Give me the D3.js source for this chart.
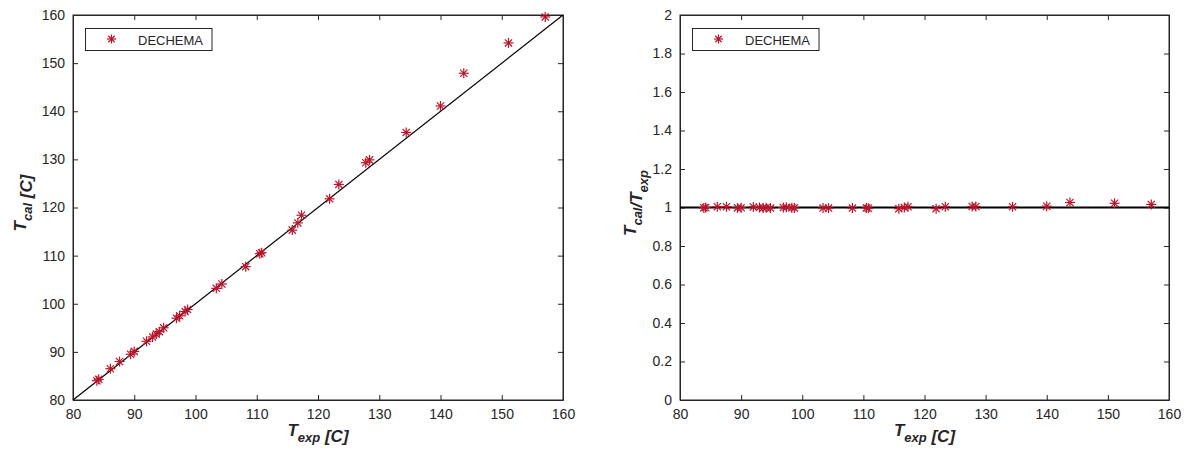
<!DOCTYPE html>
<html>
<head>
<meta charset="utf-8">
<script src="https://cdn.jsdelivr.net/npm/d3@7"></script>
<style>
  body { margin: 0; background: #fff; }
  text { font-family: "Liberation Sans", Arial, sans-serif; }
</style>
</head>
<body>
<div id="canvas"></div>
<script>
// values
var tExp = [83.9, 84.2, 86.1, 87.6, 89.4, 90.0, 92.0, 93.0, 93.6, 94.1, 94.8,
  96.9, 97.4, 98.3, 98.7, 103.4, 104.3, 108.2, 110.5, 110.8, 115.8, 116.7,
  117.3, 121.9, 123.4, 127.8, 128.4, 134.4, 140.0, 143.8, 151.1, 157.1];
var tCal = [84.0, 84.3, 86.5, 88.0, 89.5, 90.1, 92.2, 93.1, 93.7, 94.2, 95.0,
  97.0, 97.5, 98.4, 98.8, 103.2, 104.1, 107.7, 110.4, 110.6, 115.3, 116.8,
  118.4, 121.8, 124.8, 129.3, 129.9, 135.6, 141.1, 147.9, 154.2, 159.6];
var ratio = [0.998, 1.000, 1.004, 1.004, 0.998, 0.999, 1.003, 1.000, 0.998, 0.999, 0.997,
  1.000, 1.001, 0.999, 0.998, 0.997, 0.997, 0.997, 0.998, 0.996, 0.994, 1.000,
  1.004, 0.994, 1.004, 1.005, 1.005, 1.004, 1.007, 1.026, 1.022, 1.016];
var xTicks = [80, 90, 100, 110, 120, 130, 140, 150, 160];
var leftYTicks = [80, 90, 100, 110, 120, 130, 140, 150, 160];
var rightYTicks = [0, 0.2, 0.4, 0.6, 0.8, 1, 1.2, 1.4, 1.6, 1.8, 2];
var legendLabel = "DECHEMA";

var markColor = "#b8142a";
var axisColor = "#262626";

var svg = d3.select('#canvas').append('svg')
  .attr('width', 1189)
  .attr('height', 456);

// MATLAB style asterisk: plus + cross
var star = function(g, r) {
  var d = r * 0.72;
  g.append('line').attr('x1', 0).attr('y1', -r).attr('x2', 0).attr('y2', r);
  g.append('line').attr('x1', -r).attr('y1', 0).attr('x2', r).attr('y2', 0);
  g.append('line').attr('x1', -d).attr('y1', -d).attr('x2', d).attr('y2', d);
  g.append('line').attr('x1', -d).attr('y1', d).attr('x2', d).attr('y2', -d);
};

var label = function(g, parts) {
  // parts: [text, sub] pairs
  parts.forEach(function(p) {
    g.append('tspan').text(p[0]);
    if (p[1]) {
      g.append('tspan').attr('dy', 6).attr('font-size', 13).text(p[1]);
      g.append('tspan').attr('dy', -6).text('');
    }
  });
};

var drawPanel = function(opt) {
  var x = d3.scaleLinear().domain([80, 160]).range([opt.left, opt.right]);
  var y = d3.scaleLinear().domain(opt.yDomain).range([400, 15]);
  var g = svg.append('g');

  g.append('g').attr('transform', 'translate(0,400)')
    .call(d3.axisBottom(x).tickValues(xTicks).tickSizeInner(-5).tickSizeOuter(0).tickPadding(9));
  g.append('g').attr('transform', 'translate(0,15)')
    .call(d3.axisTop(x).tickValues(xTicks).tickSizeInner(-5).tickSizeOuter(0).tickFormat(''));
  g.append('g').attr('transform', 'translate(' + opt.left + ',0)')
    .call(d3.axisLeft(y).tickValues(opt.yTicks).tickSizeInner(-5).tickSizeOuter(0).tickPadding(8)
      .tickFormat(opt.fmt));
  g.append('g').attr('transform', 'translate(' + opt.right + ',0)')
    .call(d3.axisRight(y).tickValues(opt.yTicks).tickSizeInner(-5).tickSizeOuter(0).tickFormat(''));

  g.selectAll('.domain, .tick line').attr('stroke', axisColor);
  g.selectAll('.tick text').attr('fill', axisColor).attr('font-size', 14)
    .attr('font-family', '"Liberation Sans", Arial, sans-serif');

  g.append('rect')
    .attr('x', opt.left).attr('y', 15)
    .attr('width', opt.right - opt.left).attr('height', 385)
    .attr('fill', 'none').attr('stroke', axisColor);

  // reference line
  g.append('line')
    .attr('x1', x(80)).attr('y1', y(opt.line[0]))
    .attr('x2', x(160)).attr('y2', y(opt.line[1]))
    .attr('stroke', '#000').attr('stroke-width', opt.lineW);

  var pts = g.selectAll('g.pt').data(tExp)
    .enter().append('g').attr('class', 'pt')
    .attr('transform', function (d, i) { return 'translate(' + x(d) + ',' + y(opt.yVals[i]) + ')'; })
    .attr('stroke', markColor).attr('stroke-width', 1.2);
  pts.each(function() { star(d3.select(this), 5); });

  // legend
  var lg = g.append('g');
  lg.append('rect').attr('x', opt.left + 12.5).attr('y', 28.5)
    .attr('width', 126.5).attr('height', 22)
    .attr('fill', '#fff').attr('stroke', axisColor);
  var m = lg.append('g').attr('transform', 'translate(' + (opt.left + 38.5) + ',39)')
    .attr('stroke', markColor).attr('stroke-width', 1.2);
  star(m, 4.5);
  lg.append('text').attr('x', opt.left + 65).attr('y', 44.5)
    .attr('font-size', 13).attr('fill', axisColor).text(legendLabel);

  // axis titles
  var xt = g.append('text').attr('x', (opt.left + opt.right) / 2).attr('y', 436)
    .attr('text-anchor', 'middle').attr('font-size', 17)
    .attr('font-weight', 'bold').attr('font-style', 'italic').attr('fill', axisColor);
  label(xt, [['T', 'exp'], [' [C]']]);

  var yt = g.append('text')
    .attr('transform', 'translate(' + opt.yLabelX + ',203) rotate(-90)')
    .attr('text-anchor', 'middle').attr('font-size', 17)
    .attr('font-weight', 'bold').attr('font-style', 'italic').attr('fill', axisColor);
  label(yt, opt.yLabel);
};

drawPanel({
  left: 73, right: 563, yDomain: [80, 160], yTicks: leftYTicks,
  fmt: d3.format('d'), yVals: tCal, line: [80, 160], lineW: 1.2,
  yLabelX: 26, yLabel: [['T', 'cal'], [' [C]']]
});

drawPanel({
  left: 680, right: 1169, yDomain: [0, 2], yTicks: rightYTicks,
  fmt: function(d) { return d3.format('~g')(d); }, yVals: ratio, line: [1, 1], lineW: 2,
  yLabelX: 636, yLabel: [['T', 'cal'], ['/T', 'exp']]
});
</script>
</body>
</html>
